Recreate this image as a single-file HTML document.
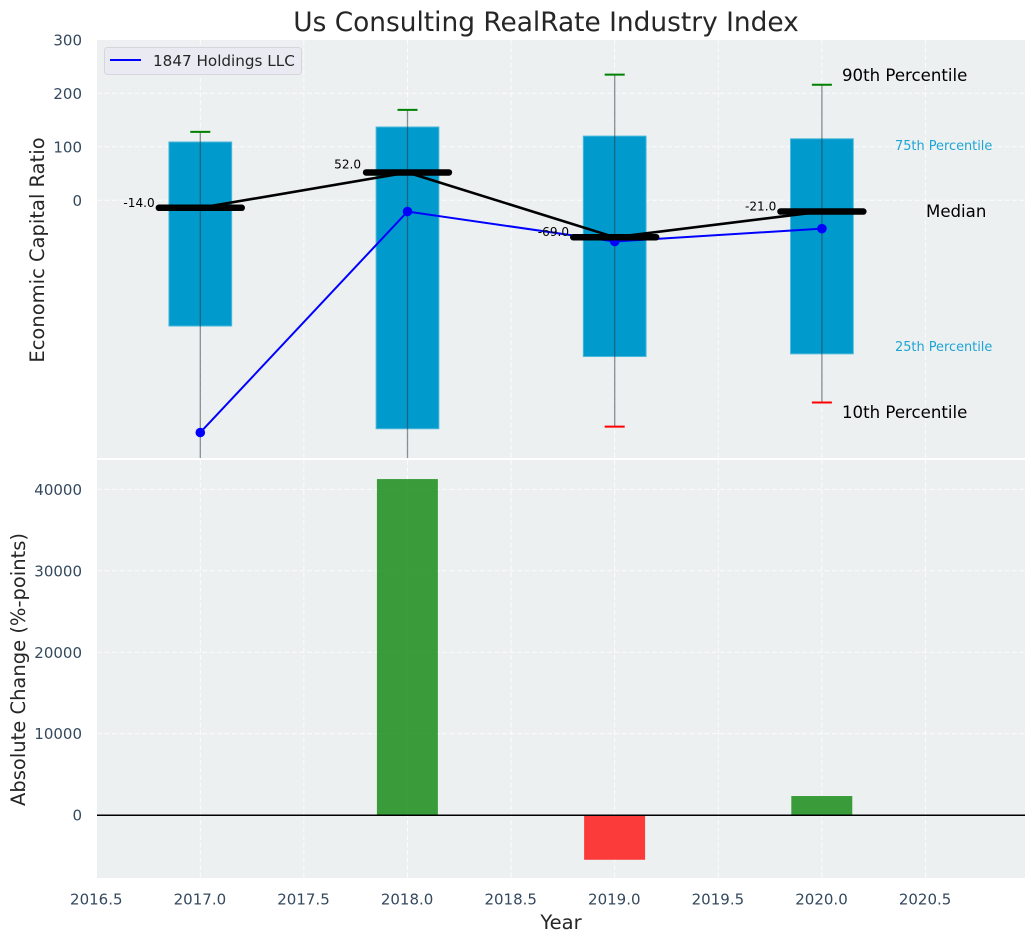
<!DOCTYPE html>
<html>
<head>
<meta charset="utf-8">
<title>Us Consulting RealRate Industry Index</title>
<style>
html,body{margin:0;padding:0;background:#fff;width:1036px;height:942px;overflow:hidden}
svg{display:block;font-family:"DejaVu Sans","Liberation Sans",sans-serif}
</style>
</head>
<body>
<svg id="chart" width="1036" height="942" viewBox="0 0 1036 942" xmlns="http://www.w3.org/2000/svg">
  <defs>
    <clipPath id="top-clip"><rect x="97" y="40" width="928" height="418"/></clipPath>
    <clipPath id="bottom-clip"><rect x="97" y="460" width="928" height="418"/></clipPath>
  </defs>
  <rect x="97" y="40" width="928" height="418" fill="#ecf0f1"/>
  <rect x="97" y="460" width="928" height="418" fill="#ecf0f1"/>
  <g id="grid"></g>
  <g id="top-marks" clip-path="url(#top-clip)"></g>
  <g id="bottom-marks" clip-path="url(#bottom-clip)"></g>
  <g id="tick-labels" fill="#34495e" font-size="15"></g>
  <g id="median-labels" fill="#000" font-size="12.1"></g>

  <text x="546" y="31" text-anchor="middle" font-size="26.4" fill="#262626">Us Consulting RealRate Industry Index</text>
  <text transform="translate(44,250) rotate(-90)" text-anchor="middle" font-size="19.5" fill="#262626">Economic Capital Ratio</text>
  <text transform="translate(25,669.5) rotate(-90)" text-anchor="middle" font-size="19.5" fill="#262626">Absolute Change (%-points)</text>
  <text x="561" y="929" text-anchor="middle" font-size="19.5" fill="#262626">Year</text>

  <text x="842" y="81" font-size="16.6" fill="#000">90th Percentile</text>
  <text x="895" y="150" font-size="12.9" fill="#1ea5d4">75th Percentile</text>
  <text x="926" y="217" font-size="16.6" fill="#000">Median</text>
  <text x="895" y="351" font-size="12.9" fill="#1ea5d4">25th Percentile</text>
  <text x="842" y="418" font-size="16.6" fill="#000">10th Percentile</text>

  <g>
    <rect x="104.5" y="47.5" width="197" height="27" rx="3" fill="#eaeaf2" stroke="#d5d5db" stroke-width="1"/>
    <line x1="110" y1="60" x2="141" y2="60" stroke="#0000ff" stroke-width="2"/>
    <text x="153" y="66" font-size="15.2" fill="#262626">1847 Holdings LLC</text>
  </g>
</svg>
<script>
const years = [2017, 2018, 2019, 2020];
const p90 = [128, 169, 235, 216];
const p75 = [109, 137, 120, 115];
const medians = [-14, 52, -69, -21];
const p25 = [-235, -427, -292, -287];
const p10 = [-540, -560, -423, -378];
const companyValues = [-434, -21, -77, -53];
const absoluteChange = [null, 41270, -5500, 2330];
const xTicks = [2016.5, 2017, 2017.5, 2018, 2018.5, 2019, 2019.5, 2020, 2020.5];
const topYTicks = [0, 100, 200, 300];
const bottomYTicks = [0, 10000, 20000, 30000, 40000];

const NS = 'http://www.w3.org/2000/svg';
const xScale = v => 200.3 + (v - 2017) * 207.2;
const yTop = v => 200.3 - v * 0.535;
const yBottom = v => 815 - v * 0.00814;
const BOX_HALF = 0.15, MEDIAN_HALF = 0.2, CAP_PX = 10;

function make(parent, tag, attrs, text) {
  const el = document.createElementNS(NS, tag);
  for (const k in attrs) el.setAttribute(k, attrs[k]);
  if (text !== undefined) el.textContent = text;
  parent.appendChild(el);
  return el;
}
const grid = document.getElementById('grid');
const topMarks = document.getElementById('top-marks');
const bottomMarks = document.getElementById('bottom-marks');
const tickLabels = document.getElementById('tick-labels');
const medianLabels = document.getElementById('median-labels');
const gridStyle = {stroke: '#ffffff', 'stroke-width': 1, 'stroke-dasharray': '5 2.5', opacity: 0.85};

xTicks.forEach(t => {
  const x = xScale(t);
  if (t > 2016.5) {
    const a = make(grid, 'line', Object.assign({x1: x, x2: x, y1: 40, y2: 458}, gridStyle));
    
    
    const b = make(grid, 'line', Object.assign({x1: x, x2: x, y1: 460, y2: 878}, gridStyle));
    
    
  }
  const lab = make(tickLabels, 'text', {x: x - 0.4, y: 904.5, 'text-anchor': 'middle'}, t.toFixed(1));
  
  
});
topYTicks.forEach(t => {
  const y = yTop(t);
  if (t < 300) {
    const g = make(grid, 'line', Object.assign({x1: 97, x2: 1025, y1: y, y2: y}, gridStyle));
    
    
  }
  const lab = make(tickLabels, 'text', {x: 82, y: y + 5.6, 'text-anchor': 'end'}, String(t));
  
  
});
bottomYTicks.forEach(t => {
  const y = yBottom(t);
  const g = make(grid, 'line', Object.assign({x1: 97, x2: 1025, y1: y, y2: y}, gridStyle));
  
  
  const lab = make(tickLabels, 'text', {x: 82, y: y + 5.6, 'text-anchor': 'end'}, String(t));
  
  
});

years.forEach((yr, i) => {
  const x = xScale(yr), w = (xScale(yr + BOX_HALF) - x);
  const box = make(topMarks, 'rect', {x: x - w - 0.3, y: yTop(p75[i]), width: 2 * w + 0.6, height: yTop(p25[i]) - yTop(p75[i]),
    fill: '#009acd', stroke: '#4db8dc', 'stroke-width': 1});
  
  
  const whisker = make(topMarks, 'line', {x1: x, x2: x, y1: yTop(p90[i]), y2: yTop(p10[i]), stroke: '#2b3a42', 'stroke-width': 1.3, opacity: 0.55});
  
  
  const capHi = make(topMarks, 'line', {x1: x - CAP_PX, x2: x + CAP_PX, y1: yTop(p90[i]), y2: yTop(p90[i]), stroke: '#008000', 'stroke-width': 2});
  
  
  const capLo = make(topMarks, 'line', {x1: x - CAP_PX, x2: x + CAP_PX, y1: yTop(p10[i]), y2: yTop(p10[i]), stroke: '#ff0000', 'stroke-width': 2});
  
  
});

const companyLine = make(topMarks, 'polyline', {
  points: years.map((yr, i) => xScale(yr) + ',' + yTop(companyValues[i])).join(' '),
  fill: 'none', stroke: '#0000ff', 'stroke-width': 2});


years.forEach((yr, i) => {
  const dot = make(topMarks, 'circle', {cx: xScale(yr), cy: yTop(companyValues[i]), r: 4.8, fill: '#0000ff'});
  
  
});

years.forEach((yr, i) => {
  const m = make(topMarks, 'line', {x1: xScale(yr - MEDIAN_HALF), x2: xScale(yr + MEDIAN_HALF), y1: yTop(medians[i]), y2: yTop(medians[i]),
    stroke: '#000', 'stroke-width': 6.5, 'stroke-linecap': 'round'});
  
  
  const lab = make(medianLabels, 'text', {x: xScale(yr) - 45.6 - (medians[i] > 0 ? 0.8 : 0), y: yTop(medians[i]) - (medians[i] > 0 ? 4 : 1), 'text-anchor': 'end'}, medians[i].toFixed(1));
  
  
});
const medianLine = make(topMarks, 'polyline', {
  points: years.map((yr, i) => xScale(yr) + ',' + yTop(medians[i])).join(' '),
  fill: 'none', stroke: '#000', 'stroke-width': 2.6});



years.forEach((yr, i) => {
  const v = absoluteChange[i];
  if (v === null) return;
  const x = xScale(yr), w = xScale(yr + BOX_HALF) - x;
  const y0 = yBottom(Math.max(v, 0)), y1 = yBottom(Math.min(v, 0));
  const bar = make(bottomMarks, 'rect', {x: x - w + 0.5, y: y0, width: 2 * w - 1.2, height: y1 - y0,
    fill: v >= 0 ? '#008000' : '#ff0000', 'fill-opacity': 0.76});
  
  
});
const zero = make(bottomMarks, 'line', {x1: 97, x2: 1025, y1: yBottom(0) + 0.3, y2: yBottom(0) + 0.3, stroke: '#000', 'stroke-width': 1.5});


</script>
</body>
</html>
